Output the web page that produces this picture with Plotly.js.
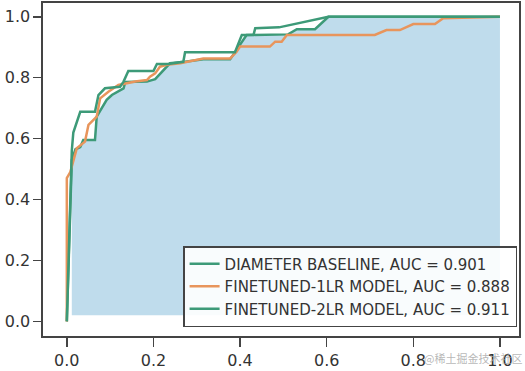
<!DOCTYPE html>
<html>
<head>
<meta charset="utf-8">
<script src="https://cdn.plot.ly/plotly-3.0.1.min.js"></script>
<style>html,body{margin:0;padding:0;background:#fff}#chart{width:525px;height:371px}</style>
</head>
<body>
<div id="chart"></div>
<script>
// ROC curve points
const baselineFpr = [0, 0.0115, 0.02, 0.031, 0.038, 0.065, 0.069, 0.092, 0.104, 0.131, 0.135, 0.185, 0.204, 0.238, 0.273, 0.315, 0.377, 0.415, 0.511, 0.531, 0.573, 0.604, 1.0];
const baselineTpr = [0, 0.53, 0.565, 0.572, 0.595, 0.595, 0.672, 0.727, 0.743, 0.765, 0.786, 0.787, 0.795, 0.847, 0.852, 0.860, 0.860, 0.940, 0.942, 0.959, 0.959, 1.0, 1.0];

const lr1Fpr = [0, 0, 0.008, 0.015, 0.023, 0.042, 0.050, 0.069, 0.077, 0.096, 0.119, 0.158, 0.185, 0.192, 0.204, 0.215, 0.231, 0.262, 0.281, 0.315, 0.377, 0.392, 0.400, 0.469, 0.481, 0.496, 0.508, 0.711, 0.738, 0.769, 0.800, 0.850, 0.869, 1.0];
const lr1Tpr = [0, 0.47, 0.49, 0.524, 0.568, 0.590, 0.645, 0.672, 0.732, 0.754, 0.776, 0.787, 0.792, 0.803, 0.814, 0.836, 0.842, 0.847, 0.852, 0.863, 0.863, 0.885, 0.902, 0.902, 0.918, 0.918, 0.940, 0.940, 0.956, 0.956, 0.976, 0.976, 0.995, 1.0];

const lr2Fpr = [0, 0.0115, 0.015, 0.031, 0.065, 0.073, 0.088, 0.123, 0.131, 0.142, 0.200, 0.208, 0.234, 0.269, 0.273, 0.388, 0.404, 0.431, 0.435, 0.49, 0.604, 1.0];
const lr2Tpr = [0, 0.56, 0.62, 0.688, 0.688, 0.743, 0.765, 0.770, 0.787, 0.822, 0.822, 0.845, 0.845, 0.852, 0.883, 0.883, 0.940, 0.940, 0.962, 0.965, 1.0, 1.0];

const fillBase = 0.02;
const legendNames = [
  "DIAMETER BASELINE, AUC = 0.901",
  "FINETUNED-1LR MODEL, AUC = 0.888",
  "FINETUNED-2LR MODEL, AUC = 0.911"
];
const tickVals = [0, 0.2, 0.4, 0.6, 0.8, 1.0];
const tickText = ["0.0", "0.2", "0.4", "0.6", "0.8", "1.0"];

const GREEN = "#3d9a78";
const ORANGE = "#e8955c";
const FILL = "#bfdcec";

// shaded area under the baseline curve (skip the origin point)
const fx = baselineFpr.slice(1);
const fy = baselineTpr.slice(1);
const fillX = fx.concat([fx[fx.length - 1], fx[0]]);
const fillY = fy.concat([fillBase, fillBase]);

const font = "DejaVu Sans, sans-serif";

const traces = [
  {x: fillX, y: fillY, type: "scatter", mode: "lines", fill: "toself",
   fillcolor: FILL, line: {width: 0, color: FILL}, showlegend: false, hoverinfo: "skip"},
  {x: baselineFpr, y: baselineTpr, type: "scatter", mode: "lines", name: legendNames[0],
   line: {color: GREEN, width: 2.5}},
  {x: lr1Fpr, y: lr1Tpr, type: "scatter", mode: "lines", name: legendNames[1],
   line: {color: ORANGE, width: 2.5}},
  {x: lr2Fpr, y: lr2Tpr, type: "scatter", mode: "lines", name: legendNames[2],
   line: {color: GREEN, width: 2.5}}
];

const axisCommon = {
  showgrid: false, zeroline: false, showline: true, mirror: true,
  linecolor: "#444", linewidth: 1.6,
  ticks: "outside", tickcolor: "#444", tickwidth: 1.6,
  tickvals: tickVals, ticktext: tickText,
  tickfont: {family: font, size: 16, color: "#333"}
};

const layout = {
  width: 525, height: 371,
  margin: {l: 43, r: 6, t: 3, b: 35},
  paper_bgcolor: "#fff", plot_bgcolor: "#fff",
  xaxis: Object.assign({}, axisCommon, {range: [-0.055, 1.044], ticklen: 9}),
  yaxis: Object.assign({}, axisCommon, {range: [-0.048, 1.045], ticklen: 8}),
  showlegend: true,
  legend: {
    x: 0.996, xanchor: "right", y: 0.027, yanchor: "bottom",
    bgcolor: "rgba(255,255,255,0.9)", bordercolor: "#444", borderwidth: 1.5,
    font: {family: font, size: 15, color: "#333"},
    tracegroupgap: 0
  },
  annotations: [{
    text: "@稀土掘金技术社区", xref: "paper", yref: "paper",
    x: 1.01, y: -0.065, xanchor: "right", yanchor: "middle", showarrow: false,
    font: {family: "Noto Sans CJK SC", size: 11, color: "rgba(170,170,170,0.85)"}
  }]
};

Plotly.newPlot("chart", traces, layout, {displayModeBar: false, staticPlot: true});
</script>
</body>
</html>
